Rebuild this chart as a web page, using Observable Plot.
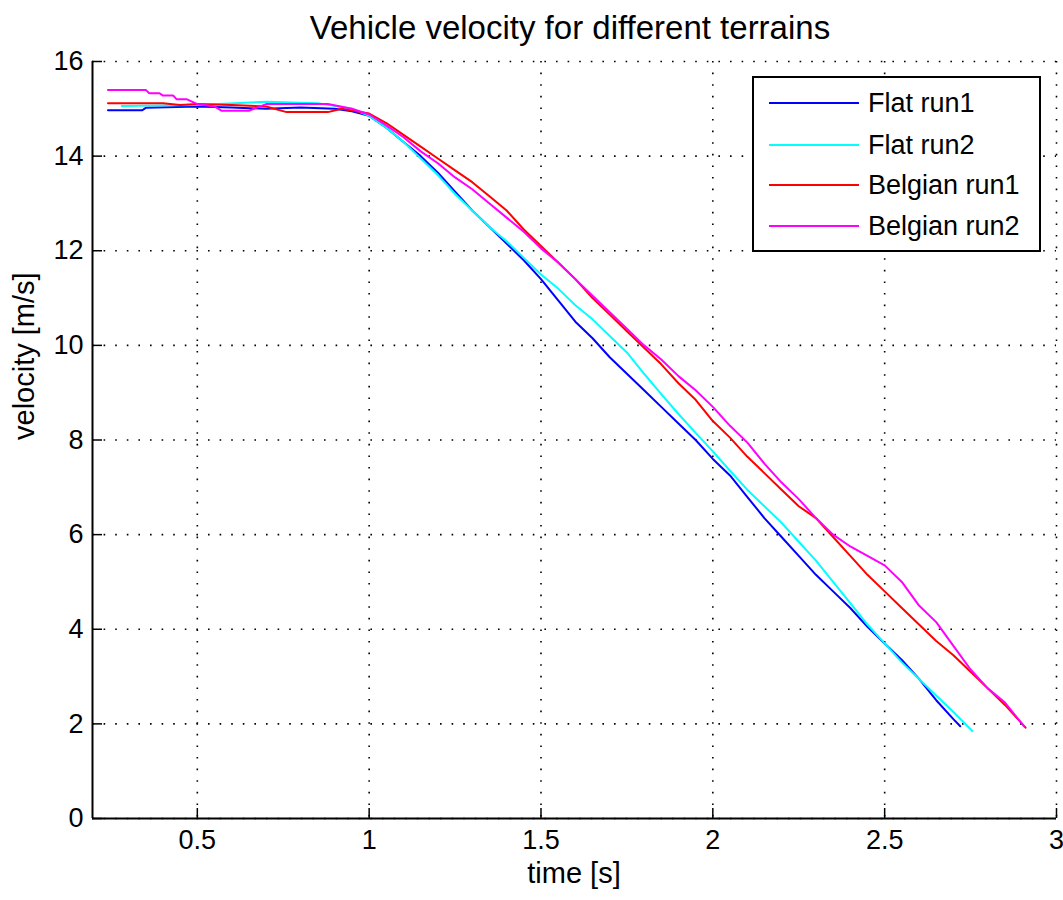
<!DOCTYPE html>
<html>
<head>
<meta charset="utf-8">
<script src="https://cdn.jsdelivr.net/npm/d3@7"></script>
<script src="https://cdn.jsdelivr.net/npm/@observablehq/plot@0.6"></script>
<style>
  html, body { margin: 0; padding: 0; background: #fff; }
  #wrap { position: relative; width: 1063px; height: 900px; font-family: "Liberation Sans", Arial, Helvetica, sans-serif; }
  #title { position: absolute; left: 0; top: 11px; width: 1140px; text-align: center; font-size: 33px; line-height: 33px; color: #000; }
  #xlabel { position: absolute; left: 92px; top: 859px; width: 964px; text-align: center; font-size: 29px; line-height: 29px; color: #000; }
  #legend { position: absolute; left: 752px; top: 76px; width: 285px; height: 172px; border: 2px solid #000; background: #fff; }
  .lrow { position: absolute; left: 0; height: 0; width: 100%; }
  .lline { position: absolute; left: 15px; width: 90px; height: 2px; top: -1px; }
  .ltext { position: absolute; left: 114px; top: -16px; font-size: 27px; line-height: 32px; white-space: nowrap; color: #000; }
</style>
</head>
<body>
<div id="wrap">
  <div id="chart"></div>
  <div id="title"></div>
  <div id="xlabel"></div>
  <div id="legend"></div>
</div>
<script>
// ---- data ----
const chartTitle = "Vehicle velocity for different terrains";
const xLabel = "time [s]";
const yLabel = "velocity [m/s]";
const seriesNames = ["Flat run1", "Flat run2", "Belgian run1", "Belgian run2"];
const seriesColors = ["#0000ff", "#00ffff", "#ff0000", "#ff00ff"];
const xTicks = [0.5, 1, 1.5, 2, 2.5, 3];
const yTicks = [0, 2, 4, 6, 8, 10, 12, 14, 16];
const xDomain = [0.195, 3];
const yDomain = [0, 16];

const flatRun1T = [0.24, 0.34, 0.35, 0.5, 0.6, 0.7, 0.8, 0.9, 0.95, 1.0, 1.05, 1.1, 1.15, 1.2, 1.25, 1.3, 1.35, 1.4, 1.45, 1.5, 1.55, 1.6, 1.65, 1.7, 1.75, 1.8, 1.85, 1.9, 1.95, 2.0, 2.05, 2.1, 2.15, 2.2, 2.25, 2.3, 2.35, 2.4, 2.45, 2.5, 2.55, 2.6, 2.65, 2.7, 2.72];
const flatRun1V = [14.97, 14.97, 15.02, 15.05, 15.03, 15.0, 15.03, 15.0, 14.95, 14.85, 14.6, 14.3, 14.0, 13.65, 13.25, 12.85, 12.5, 12.15, 11.8, 11.4, 10.95, 10.5, 10.15, 9.75, 9.4, 9.05, 8.7, 8.35, 8.0, 7.6, 7.25, 6.8, 6.35, 5.95, 5.55, 5.15, 4.8, 4.45, 4.05, 3.7, 3.35, 2.95, 2.5, 2.1, 1.95];

const flatRun2T = [0.28, 0.5, 0.7, 0.85, 0.95, 1.0, 1.05, 1.1, 1.15, 1.2, 1.25, 1.3, 1.35, 1.4, 1.45, 1.5, 1.55, 1.6, 1.65, 1.7, 1.75, 1.8, 1.85, 1.9, 1.95, 2.0, 2.05, 2.1, 2.15, 2.2, 2.25, 2.3, 2.35, 2.4, 2.45, 2.5, 2.55, 2.6, 2.65, 2.7, 2.755];
const flatRun2V = [15.06, 15.08, 15.15, 15.12, 15.0, 14.85, 14.6, 14.3, 13.95, 13.6, 13.2, 12.85, 12.5, 12.2, 11.85, 11.5, 11.2, 10.85, 10.55, 10.2, 9.85, 9.4, 8.97, 8.55, 8.15, 7.76, 7.35, 6.95, 6.6, 6.25, 5.85, 5.45, 5.0, 4.55, 4.1, 3.7, 3.3, 2.95, 2.6, 2.25, 1.85];

const belgianRun1T = [0.24, 0.4, 0.45, 0.5, 0.6, 0.7, 0.76, 0.88, 0.92, 1.0, 1.05, 1.1, 1.15, 1.2, 1.25, 1.3, 1.35, 1.4, 1.45, 1.5, 1.55, 1.6, 1.65, 1.7, 1.75, 1.8, 1.85, 1.9, 1.95, 2.0, 2.05, 2.1, 2.15, 2.2, 2.25, 2.3, 2.35, 2.4, 2.45, 2.5, 2.55, 2.6, 2.65, 2.7, 2.75, 2.8, 2.85, 2.9, 2.91];
const belgianRun1V = [15.12, 15.12, 15.08, 15.1, 15.08, 15.05, 14.93, 14.93, 15.0, 14.9, 14.7, 14.45, 14.2, 13.95, 13.7, 13.45, 13.15, 12.85, 12.45, 12.1, 11.75, 11.4, 11.0, 10.65, 10.3, 9.95, 9.6, 9.2, 8.85, 8.4, 8.05, 7.65, 7.3, 6.95, 6.6, 6.35, 5.95, 5.55, 5.15, 4.8, 4.45, 4.1, 3.75, 3.45, 3.1, 2.75, 2.4, 2.0, 1.92];

const belgianRun2T = [0.24, 0.35, 0.36, 0.39, 0.4, 0.43, 0.44, 0.47, 0.5, 0.55, 0.57, 0.65, 0.7, 0.88, 0.95, 1.0, 1.05, 1.1, 1.15, 1.2, 1.25, 1.3, 1.35, 1.4, 1.45, 1.5, 1.55, 1.6, 1.65, 1.7, 1.75, 1.8, 1.85, 1.9, 1.95, 2.0, 2.05, 2.1, 2.15, 2.2, 2.25, 2.3, 2.35, 2.4, 2.45, 2.5, 2.55, 2.6, 2.65, 2.7, 2.75, 2.8, 2.85, 2.9, 2.905];
const belgianRun2V = [15.4, 15.4, 15.33, 15.33, 15.28, 15.28, 15.2, 15.2, 15.1, 15.05, 14.96, 14.96, 15.1, 15.1, 15.0, 14.88, 14.65, 14.4, 14.1, 13.85, 13.55, 13.3, 13.0, 12.7, 12.4, 12.05, 11.75, 11.4, 11.05, 10.7, 10.35, 10.0, 9.7, 9.35, 9.05, 8.7, 8.3, 7.95, 7.5, 7.1, 6.75, 6.35, 6.0, 5.75, 5.55, 5.35, 5.0, 4.5, 4.15, 3.65, 3.15, 2.75, 2.45, 2.0, 1.95];

// ---- build table ----
const seriesT = [flatRun1T, flatRun2T, belgianRun1T, belgianRun2T];
const seriesV = [flatRun1V, flatRun2V, belgianRun1V, belgianRun2V];
const rows = [];
seriesNames.forEach((name, i) => {
  seriesT[i].forEach((t, j) => rows.push({series: name, t, v: seriesV[i][j]}));
});

// ---- layout ----
const W = 1063, H = 900;
const mL = 92, mR = 7, mT = 61, mB = 82;
const plotW = W - mL - mR, plotH = H - mT - mB;
const font = "'Liberation Sans', Arial, Helvetica, sans-serif";
const dots = {stroke: "#000", strokeOpacity: 1, strokeWidth: 1.6, strokeDasharray: "1.6,10"};

const chart = Plot.plot({
  width: W, height: H,
  marginLeft: mL, marginRight: mR, marginTop: mT, marginBottom: mB,
  x: {domain: xDomain},
  y: {domain: yDomain},
  color: {domain: seriesNames, range: seriesColors},
  style: {fontFamily: font, background: "#fff", color: "#000", overflow: "visible"},
  marks: [
    Plot.gridX(xTicks, dots),
    Plot.gridY(yTicks, dots),
    Plot.line(rows, {x: "t", y: "v", z: "series", stroke: "series", strokeWidth: 2, strokeLinejoin: "miter"}),
    Plot.ruleX([xDomain[0]], {stroke: "#000", strokeWidth: 2}),
    Plot.ruleY([yDomain[0]], {stroke: "#000", strokeWidth: 2}),
    Plot.tickX(xTicks, {x: d => d, stroke: "#000", strokeWidth: 1.5, insetTop: plotH - 10}),
    Plot.tickY(yTicks, {y: d => d, stroke: "#000", strokeWidth: 1.5, insetRight: plotW - 10}),
    Plot.axisX({ticks: xTicks, tickSize: 0, tickPadding: 11, fontSize: 27, label: null, tickFormat: d => String(d)}),
    Plot.axisY({ticks: yTicks, tickSize: 0, tickPadding: 9, fontSize: 27, label: null, tickFormat: d => String(d)}),
    Plot.text([yLabel], {text: d => d, frameAnchor: "left", dx: -68, rotate: -90, fontSize: 29, lineAnchor: "middle", fill: "#000"})
  ]
});
document.getElementById("chart").appendChild(chart);

document.getElementById("title").textContent = chartTitle;
document.getElementById("xlabel").textContent = xLabel;

const legend = document.getElementById("legend");
const rowTops = [25, 66.5, 106.5, 148];
seriesNames.forEach((name, i) => {
  const r = document.createElement("div");
  r.className = "lrow";
  r.style.top = rowTops[i] + "px";
  const l = document.createElement("div");
  l.className = "lline";
  l.style.background = seriesColors[i];
  const t = document.createElement("div");
  t.className = "ltext";
  t.textContent = name;
  r.appendChild(l); r.appendChild(t);
  legend.appendChild(r);
});
</script>
</body>
</html>
